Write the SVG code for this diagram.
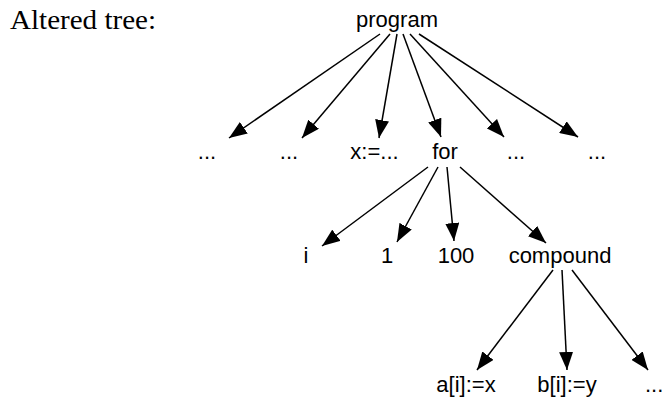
<svg xmlns="http://www.w3.org/2000/svg" width="665" height="397" viewBox="0 0 665 397">
<style>
.lbl{font-family:"Liberation Sans",Arial,sans-serif;font-size:22px;fill:#000;text-anchor:middle}
.title{font-family:"Liberation Serif","Times New Roman",serif;font-size:28px;fill:#000}
.edge{stroke:#000;stroke-width:1.5;fill:none;marker-end:url(#ah)}
</style>
<defs>
<marker id="ah" viewBox="0 0 18 14" refX="18" refY="7" markerWidth="18" markerHeight="14" markerUnits="userSpaceOnUse" orient="auto">
<path d="M0,0 L18,7 L0,14 z" fill="#000"/>
</marker>
</defs>
<rect width="665" height="397" fill="#fff"/>
<text class="title" x="10" y="29" textLength="146" lengthAdjust="spacingAndGlyphs">Altered tree:</text>
<g id="connectors">
<line class="edge" x1="380" y1="34" x2="229" y2="138"/>
<line class="edge" x1="390" y1="34" x2="302" y2="138"/>
<line class="edge" x1="397" y1="34" x2="379" y2="138"/>
<line class="edge" x1="403" y1="34" x2="441" y2="137"/>
<line class="edge" x1="410" y1="34" x2="504" y2="137"/>
<line class="edge" x1="419" y1="34" x2="578" y2="137"/>
<line class="edge" x1="428" y1="167" x2="322" y2="246"/>
<line class="edge" x1="438" y1="167" x2="397" y2="242"/>
<line class="edge" x1="447" y1="167" x2="454" y2="241"/>
<line class="edge" x1="460" y1="167" x2="546" y2="243"/>
<line class="edge" x1="553" y1="270" x2="477" y2="370"/>
<line class="edge" x1="562" y1="270" x2="567" y2="370"/>
<line class="edge" x1="572" y1="270" x2="648" y2="370"/>
</g>
<g id="n-program"><text class="lbl" x="397" y="27">program</text></g>
<g id="n-dots1"><text class="lbl" x="207" y="159">...</text></g>
<g id="n-dots2"><text class="lbl" x="289" y="159">...</text></g>
<g id="n-assign"><text class="lbl" x="374.5" y="159">x:=...</text></g>
<g id="n-for"><text class="lbl" x="445" y="159">for</text></g>
<g id="n-dots3"><text class="lbl" x="516" y="159">...</text></g>
<g id="n-dots4"><text class="lbl" x="597" y="159">...</text></g>
<g id="n-i"><text class="lbl" x="306" y="263">i</text></g>
<g id="n-1"><text class="lbl" x="387" y="263">1</text></g>
<g id="n-100"><text class="lbl" x="456" y="263">100</text></g>
<g id="n-compound"><text class="lbl" x="560" y="263">compound</text></g>
<g id="n-a"><text class="lbl" x="466" y="392">a[i]:=x</text></g>
<g id="n-b"><text class="lbl" x="567" y="392">b[i]:=y</text></g>
<g id="n-dots5"><text class="lbl" x="645" y="392" style="text-anchor:start">...</text></g>
</svg>
